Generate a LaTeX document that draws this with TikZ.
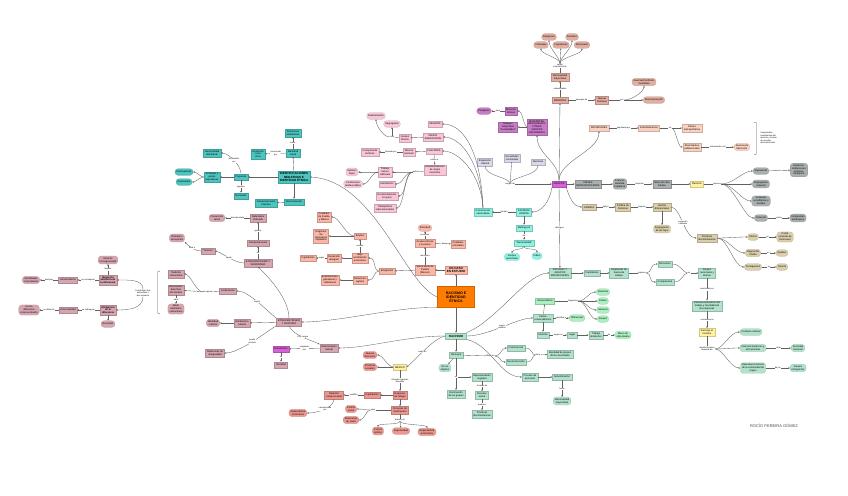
\documentclass[tikz,border=0pt]{standalone}
\usepackage{fontspec}
\setmainfont{Liberation Sans}
\usetikzlibrary{arrows.meta, positioning}
\definecolor{tealc}{RGB}{78,196,190}
\definecolor{mauve}{RGB}{214,166,176}
\definecolor{pinkc}{RGB}{249,198,216}
\definecolor{salmc}{RGB}{250,182,166}
\definecolor{redsal}{RGB}{236,152,144}
\definecolor{purp}{RGB}{198,124,198}
\definecolor{magen}{RGB}{214,98,214}
\definecolor{lav}{RGB}{218,216,234}
\definecolor{brownc}{RGB}{226,174,162}
\definecolor{peachc}{RGB}{250,210,192}
\definecolor{grayc}{RGB}{170,176,176}
\definecolor{khaki}{RGB}{218,206,172}
\definecolor{yel}{RGB}{255,243,162}
\definecolor{mint}{RGB}{178,226,204}
\definecolor{cyanc}{RGB}{142,242,224}
\definecolor{lgreen}{RGB}{172,240,194}
\definecolor{orangec}{RGB}{255,124,0}
\tikzset{
    box/.style={rectangle, draw=#1!82!black, fill=#1, line width=0.2pt, align=center, inner xsep=1.6pt, inner ysep=1.3pt, minimum height=6.5pt, font=\fontsize{2.5}{2.9}\selectfont},
    rbox/.style={box=#1, rounded corners=3pt},
    head/.style={font=\bfseries\fontsize{3}{3.5}\selectfont},
    bld/.style={font=\bfseries\fontsize{2.5}{2.9}\selectfont},
    lbl/.style={fill=white, inner sep=0.3pt, align=center, font=\fontsize{2.1}{2.4}\selectfont},
    arrow/.style={draw=black!62, line width=0.35pt, -{Stealth[length=1.8pt,width=1.6pt]}},
    link/.style={draw=black!62, line width=0.35pt}
}
\begin{document}
\begin{tikzpicture}[x=1pt, y=-1pt]
    \useasboundingbox[fill=white] (0,0) rectangle (848,495);

    % Centre
    \node (raci) [box=orangec, font=\bfseries\fontsize{3.6}{4.2}\selectfont, minimum width=37pt, minimum height=21pt] at (456,297) {RACISMO E\\IDENTIDAD\\ÉTNICA};
    \node (caso) [box=salmc, head] at (456,270) {UN CASO\\EN ESTUDIO};
    \node (sierra) [box=salmc] at (425,270) {Sierra Norte de\\Puebla\\(México)};
    \node (gen) [box=salmc] at (425,243) {Grupos étnicos\\y naciones};
    \node (ciucol) [box=salmc] at (458,244) {Ciudades\\coloniales};
    \node (etnic) [rbox=salmc] at (425,228) {Etnicidad};
    \node (emig) [box=salmc] at (387,271) {Emigración};
    \node (empleo) [box=salmc] at (360,236) {Empleo};
    \node (ciupue) [box=salmc] at (324,217) {Ciudades\\de Puebla\\y México};
    \node (regagr) [box=salmc] at (321,236) {Regiones\\de\\Agricultura\\capitalista};
    \node (bajo) [box=salmc] at (360,258) {Bajo\\rendimiento\\económico};
    \node (desdes) [box=salmc] at (334,258) {Desarrollo\\desigual};
    \node (capit1) [box=salmc] at (308,258) {Capitalismo};
    \node (estagr) [box=salmc] at (360,280) {Estructura\\agraria};
    \node (explot) [box=salmc] at (330,280) {Explotaciones\\ganaderas y\\cafetaleras};

    % Identificaciones
    \node (ident) [box=tealc, head] at (294,177) {IDENTIFICACIONES\\NEGATIVAS E\\IDENTIDAD ÉTNICA};
    \node (idsoc) [box=tealc] at (293,153) {Identidad\\social};
    \node (relasim) [box=tealc] at (293,133) {Relaciones\\asimétricas};
    \node (oposic) [box=tealc] at (258,154) {Oposición\\a los\\otros};
    \node (prej) [box=tealc] at (241,177) {Prejuicios};
    \node (actit) [box=tealc] at (212,177) {Actitudes y\\juicios\\peyorativos};
    \node (domres) [rbox=tealc] at (184,172) {Dominadores};
    \node (domdos) [rbox=tealc] at (184,182) {Dominados};
    \node (naciod) [box=tealc] at (212,153) {Nacionalidad\\dominante};
    \node (exclt) [box=tealc] at (241,196) {Exclusión};
    \node (discrim) [box=tealc] at (294,202) {Discriminación};
    \node (compcol) [box=tealc] at (266,203) {Comportamiento\\colectivo};

    % Etnocentrismo
    \node (natur) [box=mauve] at (258,218) {Naturaleza\\atribuida};
    \node (presun) [rbox=mauve] at (217,218) {Presunción\\racial};
    \node (compo) [box=mauve] at (258,243) {Comportamiento};
    \node (etnxen) [box=mauve] at (258,263) {ETNOCENTRISMO Y\\XENOFOBIA};
    \node (yootros) [box=mauve] at (208,251) {“Yo/otros”};
    \node (otred) [rbox=mauve] at (177,238) {Otredad o\\semejanza};
    \node (acult) [box=mauve] at (228,291) {Aculturación};
    \node (tradic) [box=mauve] at (176,274) {Tradición\\comunitaria};
    \node (derech) [box=mauve] at (176,290) {Desconocer\\derechos\\del hombre};
    \node (modoid) [rbox=mauve] at (176,309) {Modo\\identitario\\comunitario};
    \node (ideal) [rbox=mauve] at (108,260) {Ideal de\\homogeneidad};
    \node (negac) [box=mauve, bld] at (108,280) {Negación\\abstracta de\\la diferencia};
    \node (univ1) [box=mauve] at (68,280) {Universalismo};
    \node (idcom) [rbox=mauve] at (31,280) {Identidades\\comunitarias};
    \node (afirm) [box=mauve, bld] at (108,310) {Afirmación\\de la\\diferencia};
    \node (excl2) [rbox=mauve] at (108,324) {Exclusión};
    \node (univ2) [box=mauve] at (68,310) {Universalidad};
    \node (usadif) [rbox=mauve] at (29,310) {Usa la\\diferencia\\como exclusión};
    \node (antin) [lbl] at (143,293) {Constituyen dos\\antinomias o\\dos racismos};
    \node (etnrac) [box=mauve] at (289,322) {ETNOCENTRISMO\\Y RACISMO};
    \node (relat) [box=mauve] at (242,323) {Relativismo\\cultural};
    \node (idcul) [rbox=mauve] at (213,323) {Identidad\\cultural};
    \node (reldes) [box=mauve] at (215,353) {Relaciones de\\desigualdad};
    \node (darw) [box=magen] at (281,349) {Darwinismo};
    \node (determ) [box=mauve] at (329,348) {Determinismo\\natural};
    \node (unic) [box=mauve] at (281,365) {Unicidad};

    % Grupos (Estados Unidos)
    \node (negros) [box=pinkc] at (435,124) {NEGROS};
    \node (indios) [box=pinkc] at (433,137) {INDIOS\\AMERICANOS};
    \node (chican) [box=pinkc] at (434,151) {CHICANOS};
    \node (estmex) [box=pinkc] at (435,170) {Estadounidenses\\de origen\\mexicano};
    \node (grupet) [box=pinkc] at (405,138) {Grupos\\étnicos};
    \node (exterm) [rbox=pinkc] at (376,116) {Exterminados};
    \node (segreg) [rbox=pinkc] at (392,124) {Segregados};
    \node (minnac) [box=pinkc] at (409,152) {Minoría\\nacional};
    \node (conqu) [box=pinkc] at (370,152) {Conquista de\\territorio};
    \node (trabmc) [box=pinkc] at (385,172) {Trabajo\\menos\\calificado};
    \node (salar) [rbox=pinkc] at (352,172) {Salarios\\bajos};
    \node (condic) [rbox=pinkc] at (353,184) {Condiciones\\desfavorables};
    \node (humil) [box=pinkc] at (387,184) {Humillación};
    \node (encarc) [box=pinkc] at (387,196) {Encarcelamiento\\sin juicio};
    \node (trabind) [box=pinkc] at (385,208) {Trabajadores\\indocumentados};
    \node (raza) [lbl] at (392,137) {raza};
    \node (sufren) [lbl] at (416,172) {sufren};

    \node (expcol) [box=lav] at (485,162) {Expansión\\colonial};
    \node (socest) [box=lav] at (512,158) {Sociedades\\con Estado};
    \node (nacion) [box=lav] at (538,162) {Naciones};
    \node (surg) [lbl] at (510,184) {surgen de};

    \node (migran) [box=purp] at (537,127) {MIGRANTES,\\REFUGIADOS,\\OTROS\\GRUPOS\\NACIONALES};
    \node (minet) [box=purp] at (511,111) {Minorías\\étnicas};
    \node (pasaj) [rbox=purp] at (484,111) {Pasajeros};
    \node (riesg) [box=purp] at (508,127) {Riesgos\\temporales\\“necesidades”};

    \node (minor) [box=brownc] at (560,100) {MINORÍAS};
    \node (nacmay) [box=brownc] at (560,77) {Nacionalidad\\mayoritaria};
    \node (segcar) [lbl] at (560,66) {según\\características};
    \node (cultu) [rbox=brownc] at (541,45) {Culturales};
    \node (lingu) [rbox=brownc] at (561,45) {Lingüísticas};
    \node (nacio) [rbox=brownc] at (582,45) {Nacionales};
    \node (relig) [rbox=brownc] at (549,37) {Religiosas};
    \node (racia) [rbox=brownc] at (572,37) {Raciales};
    \node (nuevfr) [box=brownc] at (602,100) {Nuevas\\fronteras};
    \node (por1) [lbl] at (622,100) {por};
    \node (guerr) [rbox=brownc] at (644,82) {Guerras/Conflictos\\mundiales};
    \node (descol) [rbox=brownc] at (654,100) {Descolonización};

    \node (socied) [box=peachc] at (599,128) {SOCIEDADES};
    \node (indus) [box=peachc] at (649,128) {Industrialización};
    \node (en2) [lbl] at (670,128) {en};
    \node (paismet2) [box=peachc] at (692,128) {Países\\metropolitanos};
    \node (movpob) [box=peachc] at (692,147) {Movimientos\\poblacionales};
    \node (guelib) [rbox=peachc] at (742,147) {Guerras de\\liberación};
    \node (compr) [lbl, align=left, anchor=west] at (760,138) {Comprenden\\movimientos del\\derecho y formas\\de revuelta\\descolonizadas};

    \node (grupos) [box=magen] at (559,184) {GRUPOS};
    \node (paismet) [box=grayc] at (588,184) {PAÍSES\\METROPOLITANOS};
    \node (fran) [rbox=grayc] at (620,184) {Francia,\\Holanda,\\Inglaterra};
    \node (mano) [box=grayc] at (662,184) {Mano de obra\\barata};
    \node (racy) [box=yel] at (697,184) {Racismo};
    \node (provo) [lbl] at (717,184) {provoca};
    \node (separ) [rbox=grayc] at (761,171) {Separación};
    \node (espac) [rbox=grayc] at (799,170) {Espacios,\\instituciones,\\empleos,\\transporte};
    \node (segesp) [rbox=grayc] at (761,184) {Segregación\\espacial};
    \node (actxen) [rbox=grayc] at (761,201) {Actitudes\\xenofóbicas y\\hostiles};
    \node (viol) [rbox=grayc] at (761,218) {Violencia};
    \node (inmig) [rbox=grayc] at (798,218) {Inmigrantes\\extranjeros};

    \node (canada) [box=khaki] at (589,207) {CANADÁ};
    \node (polit) [box=khaki] at (623,207) {Política de\\fronteras};
    \node (hechos) [box=khaki] at (662,207) {Hechos\\diferenciales};
    \node (seghij) [rbox=khaki] at (662,229) {Segregación\\de los hijos};
    \node (practk) [box=khaki] at (707,238) {Prácticas\\discriminatorias};
    \node (chinos) [rbox=khaki] at (753,237) {Chinos};
    \node (costa) [rbox=khaki] at (785,237) {Costa\\noroeste de\\Vancouver};
    \node (negcar) [rbox=khaki] at (753,253) {Negros del\\Caribe};
    \node (quebec) [rbox=khaki] at (782,253) {Quebec};
    \node (portug) [rbox=khaki] at (753,267) {Portugueses};
    \node (toronto) [rbox=khaki] at (782,267) {Toronto};

    \node (eeuu) [box=cyanc] at (524,212) {ESTADOS\\UNIDOS};
    \node (constn) [box=cyanc] at (483,212) {Construcción\\nacionalista};
    \node (melt) [box=cyanc] at (524,228) {Melting pot};
    \node (nacq) [box=cyanc] at (524,243) {“Nacionalidad”};
    \node (grupnac) [rbox=cyanc] at (512,257) {Grupos\\nacionales};
    \node (indios2) [rbox=cyanc] at (537,256) {Indios};

    % Racismo y grupos minoritarios
    \node (rgm) [box=mint] at (560,273) {RACISMO Y\\GRUPOS\\MINORITARIOS};
    \node (capit2) [box=mint] at (592,273) {Capitalismo};
    \node (ampl) [box=mint] at (619,273) {Ampliación de\\fuerza de\\trabajo};
    \node (prod) [lbl] at (642,273) {produce};
    \node (encu) [box=mint] at (665,264) {Encuentro};
    \node (compet) [box=mint] at (665,282) {Competencia};
    \node (en3) [lbl] at (689,273) {en};
    \node (grnyet) [box=mint] at (707,273) {Grupos\\nacionales y\\étnicos};
    \node (intern) [box=mint] at (707,306) {Internacionalización del\\trabajo y movilidad de\\las empresas};
    \node (resur) [box=yel] at (707,332) {Resurge el\\racismo};
    \node (manif) [lbl] at (707,349) {manifestaciones\\depende de};
    \node (contx) [rbox=mint] at (751,332) {Contexto cultural};
    \node (factr) [rbox=mint] at (753,348) {Factores históricos y\\estructurales};
    \node (socnac) [rbox=mint] at (798,348) {Sociedad\\nacional};
    \node (natur2) [rbox=mint] at (753,368) {Naturaleza histórica\\de la comunidad de\\origen};
    \node (grinm) [rbox=mint] at (798,368) {Grupos\\inmigrantes};

    % Racismo
    \node (racismo) [box=mint, head, minimum width=21pt] at (456,336) {RACISMO};
    \node (ideol) [box=mint] at (456,355) {Ideología};
    \node (noobj) [rbox=mint] at (445,368) {No es\\objetivo};
    \node (en1) [lbl] at (456,377) {en};
    \node (domgr) [box=mint] at (456,394) {Dominación\\de los grupos};
    \node (repneg) [box=mint] at (482,377) {Representación\\negativa};
    \node (discur) [box=mint] at (482,395) {Discurso\\social};
    \node (pradis) [box=mint] at (482,414) {Prácticas\\discriminatorias};
    \node (infl) [lbl] at (490,356) {influye en};
    \node (constr) [box=mint] at (516,348) {Construcción};
    \node (decons) [box=mint] at (516,362) {Deconstrucción};
    \node (dela) [lbl] at (538,355) {de la};
    \node (idgru) [box=mint] at (560,354) {Identidad de grupos\\étnico-nacionales};
    \node (procex) [box=mint] at (530,377) {Proceso de\\exclusión};
    \node (subord) [box=mint] at (562,377) {Subordinación};
    \node (nacmay2) [rbox=mint] at (562,401) {Nacionalidad\\mayoritaria};
    \node (univ3) [box=lgreen] at (545,301) {Universalismo};
    \node (frag) [lbl] at (573,301) {fragmenta};
    \node (sist2) [rbox=lgreen] at (603,292) {Sistemas};
    \node (clas) [rbox=lgreen] at (603,301) {Clases};
    \node (gene) [rbox=lgreen] at (603,310) {Géneros};
    \node (grup2) [rbox=lgreen] at (603,319) {Grupos};
    \node (falsu) [box=mint] at (543,318) {Falsos\\universalismos};
    \node (diferen) [rbox=lgreen] at (577,318) {Diferencias};
    \node (sistem) [box=mint] at (543,335) {Sistema};
    \node (lugar) [box=mint] at (572,335) {Lugar};
    \node (trabdom) [box=mint] at (596,335) {Trabajo\\doméstico};
    \node (manob2) [rbox=lgreen] at (623,335) {Mano de\\obra barata};

    % Mexico
    \node (mexico) [box=yel] at (400,367) {MÉXICO};
    \node (nuevd) [rbox=redsal] at (370,355) {Nuevos\\discursos};
    \node (pracs) [rbox=redsal] at (370,367) {Prácticas\\sociales};
    \node (regref) [box=redsal] at (400,395) {Regiones\\de refugio};
    \node (capit3) [box=redsal] at (372,395) {Capitalismo};
    \node (relcam) [box=redsal] at (334,395) {Relación\\campo-ciudad};
    \node (depec1) [rbox=redsal] at (298,413) {Dependencia\\económica};
    \node (procdom) [box=redsal] at (400,410) {Procesos de\\dominación};
    \node (para2) [lbl] at (373,410) {para};
    \node (contsoc) [rbox=redsal] at (351,409) {Control\\social};
    \node (relcas) [rbox=redsal] at (351,420) {Relaciones\\de casta};
    \node (basa2) [lbl] at (400,420) {basado en};
    \node (contpol) [rbox=redsal] at (378,431) {Control\\político};
    \node (super) [rbox=redsal] at (401,431) {Superioridad};
    \node (depec2) [rbox=redsal] at (427,432) {Dependencia\\económica};

    \node (firma) [font=\fontsize{4}{5}\selectfont, text=black!70] at (774,426) {ROCÍO PEREIRA GÓMEZ};

    % Connections
    \draw [arrow] (raci) -- (caso);
    \draw [arrow] (raci) -- (racismo);
    \draw [arrow] (caso) -- (sierra);
    \draw [arrow] (sierra) -- node[lbl] {menciona} (gen);
    \draw [arrow] (gen) -- node[lbl] {propician} (etnic);
    \draw [arrow] (gen) -- node[lbl] {de} (ciucol);
    \draw [arrow] (sierra) -- (emig);
    \draw [arrow] (emig.west) .. controls +(-6,0) and +(8,0) .. (bajo.east);
    \draw [arrow] (emig.west) .. controls +(-6,0) and +(8,0) .. (estagr.east);
    \draw [arrow] (bajo) -- node[lbl] {escaso} (empleo);
    \draw [arrow] (empleo) -- (regagr);
    \draw [arrow] (empleo.west) .. controls +(-8,0) and +(8,0) .. (ciupue.east);
    \draw [arrow] (bajo) -- (desdes);
    \draw [arrow] (desdes) -- node[lbl] {según} (capit1);
    \draw [arrow] (estagr) -- (explot);

    \draw [arrow] (raci.west) .. controls (405,285) and (375,180) .. (ident.east);
    \draw [arrow] (raci.south west) .. controls (400,306) and (340,322) .. (etnrac.east);
    \draw [arrow] (racismo.west) .. controls +(-40,0) and +(30,0) .. (determ.east);
    \draw [arrow] (racismo.west) .. controls +(-12,2) and +(8,-6) .. node[lbl, pos=0.55] {surge en} (mexico.east);

    \draw [arrow] (ident) -- (prej);
    \draw [arrow] (prej) -- (actit);
    \draw [arrow] (actit.west) .. controls +(-4,0) and +(4,0) .. (domres.east);
    \draw [arrow] (actit.west) .. controls +(-4,0) and +(4,0) .. (domdos.east);
    \draw [arrow] (prej) -- node[lbl] {significa} (exclt);
    \draw [arrow] (prej.north) .. controls +(0,-8) and +(8,0) .. node[lbl] {producidos\\por} (naciod.east);
    \draw [arrow] (ident) -- (idsoc);
    \draw [arrow] (idsoc) -- node[lbl] {basa} (relasim);
    \draw [arrow] (idsoc) -- node[lbl] {reconocida\\por} (oposic);
    \draw [arrow] (ident) -- (discrim);
    \draw [arrow] (discrim) -- (compcol);

    \draw [arrow] (etnxen) -- node[lbl] {en} (compo);
    \draw [arrow] (compo) -- node[lbl] {genera} (natur);
    \draw [arrow] (natur) -- node[lbl] {desvalorizada} (presun);
    \draw [arrow] (etnxen.west) .. controls +(-10,0) and +(8,2) .. node[lbl] {Según} (yootros.east);
    \draw [arrow] (yootros.west) .. controls +(-6,0) and +(4,4) .. node[lbl] {lleva a} (otred.south east);
    \draw [arrow] (etnrac.north) .. controls +(0,-20) and +(10,10) .. (etnxen.south);
    \draw [arrow] (etnrac.north west) .. controls +(-10,-8) and +(12,0) .. node[lbl] {Según} (acult.east);
    \node (seop) [lbl] at (208,292) {se oponen};
    \draw [link] (acult) -- (seop);
    \draw [arrow] (seop.west) .. controls +(-6,0) and +(6,0) .. (tradic.east);
    \draw [arrow] (seop) -- (derech);
    \draw [arrow] (derech) -- node[lbl] {ideal} (modoid);
    \draw [link] (160,271) -- (157.5,272) -- (157.5,313) -- (160,314);
    \draw [arrow] (antin.north) .. controls +(0,-10) and +(12,0) .. (negac.east);
    \draw [arrow] (antin.south) .. controls +(0,12) and +(12,0) .. (afirm.east);
    \draw [arrow] (negac) -- node[lbl] {se contrapone} (univ1);
    \draw [arrow] (univ1) -- node[lbl] {destruye} (idcom);
    \draw [arrow] (negac) -- node[lbl] {implica} (ideal);
    \draw [arrow] (afirm) -- node[lbl] {se sobrepone} (univ2);
    \draw [arrow] (univ2) -- node[lbl] {se distancia} (usadif);
    \draw [arrow] (afirm) -- (excl2);
    \draw [arrow] (etnrac) -- (relat);
    \draw [arrow] (relat) -- (idcul);
    \draw [arrow] (etnrac.south west) .. controls +(-10,6) and +(15,0) .. node[lbl] {puede\\producir} (reldes.east);
    \draw [arrow] (etnrac.south) .. controls +(4,10) and +(-8,-4) .. node[lbl] {Con rasgos} (determ.north west);
    \draw [arrow] (determ) -- node[lbl] {originada\\por} (darw);
    \draw [arrow] (darw) -- node[lbl] {es} (unic);

    \draw [arrow] (constn.north) .. controls +(-2,-55) and +(22,0) .. (negros.east);
    \draw [arrow] (constn.north) .. controls +(-2,-45) and +(18,0) .. (indios.east);
    \draw [arrow] (constn.north) .. controls +(-2,-35) and +(16,0) .. (chican.east);
    \draw [arrow] (chican) -- node[lbl] {refiere a} (estmex);
    \draw [arrow] (indios) -- (grupet);
    \draw [link] (grupet) -- (raza);
    \draw [arrow] (raza.west) .. controls +(-6,0) and +(0,6) .. (exterm.south);
    \draw [arrow] (raza.north) .. controls +(0,-3) and +(0,4) .. (segreg.south);
    \draw [arrow] (chican) -- (minnac);
    \draw [arrow] (minnac) -- node[lbl] {formada por} (conqu);
    \draw [link] (estmex) -- (sufren);
    \draw [arrow] (sufren.west) .. controls +(-8,0) and +(8,0) .. (trabmc.east);
    \draw [arrow] (sufren.west) .. controls +(-8,0) and +(8,0) .. (humil.east);
    \draw [arrow] (sufren.west) .. controls +(-8,0) and +(8,0) .. (encarc.east);
    \draw [arrow] (sufren.west) .. controls +(-8,0) and +(8,0) .. (trabind.east);
    \draw [arrow] (trabmc.west) .. controls +(-6,0) and +(6,0) .. (salar.east);
    \draw [arrow] (trabmc.west) .. controls +(-6,0) and +(6,0) .. (condic.east);

    \draw [link] (expcol.south) .. controls +(0,10) and +(-4,-6) .. (surg.north);
    \draw [link] (socest) -- (surg);
    \draw [link] (nacion.south) .. controls +(0,10) and +(4,-6) .. (surg.north);
    \draw [arrow] (surg) -- (grupos);
    \draw [arrow] (grupos.north) .. controls +(0,-20) and +(0,20) .. (migran.south);
    \draw [arrow] (grupos) -- (minor);
    \draw [arrow] (grupos.north) .. controls +(0,-20) and +(0,20) .. (socied.south);
    \draw [arrow] (migran.west) .. controls +(-4,-4) and +(5,0) .. (minet.east);
    \draw [arrow] (migran) -- (riesg);
    \draw [arrow] (minet) -- node[lbl] {para} (pasaj);

    \draw [arrow] (minor) -- node[lbl] {subordinadas} (nacmay);
    \draw [link] (nacmay) -- (segcar);
    \draw [arrow] (segcar.north) .. controls +(0,-6) and +(0,6) .. (cultu.south);
    \draw [arrow] (segcar.north) .. controls +(0,-6) and +(0,8) .. (relig.south);
    \draw [arrow] (segcar) -- (lingu);
    \draw [arrow] (segcar.north) .. controls +(0,-6) and +(0,8) .. (racia.south);
    \draw [arrow] (segcar.north) .. controls +(0,-6) and +(0,6) .. (nacio.south);
    \draw [arrow] (minor) -- node[lbl] {emergen de} (nuevfr);
    \draw [link] (nuevfr) -- (por1);
    \draw [arrow] (por1) -- (descol);
    \draw [arrow] (por1.east) .. controls +(8,0) and +(0,6) .. (guerr.south);

    \draw [arrow] (socied) -- node[lbl] {impulsada por} (indus);
    \draw [link] (indus) -- (en2);
    \draw [arrow] (en2) -- (paismet2);
    \draw [arrow] (en2.east) .. controls +(4,0) and +(-5,0) .. (movpob.west);
    \draw [arrow] (movpob) -- node[lbl] {relacionados con} (guelib);
    \draw [link] (754,122) -- (756.5,123) -- (756.5,154) -- (754,155);

    \draw [arrow] (grupos) -- (paismet);
    \draw [arrow] (paismet) -- (fran);
    \draw [arrow] (fran) -- node[lbl] {importan} (mano);
    \draw [arrow] (mano) -- (racy);
    \draw [link] (racy) -- (provo);
    \draw [arrow] (provo.east) .. controls +(12,0) and +(-10,0) .. (separ.west);
    \draw [arrow] (provo) -- (segesp);
    \draw [arrow] (provo.east) .. controls +(12,0) and +(-10,0) .. (actxen.west);
    \draw [arrow] (provo.east) .. controls +(12,0) and +(-10,0) .. (viol.west);
    \draw [arrow] (separ) -- node[lbl] {en} (espac);
    \draw [arrow] (viol) -- node[lbl] {contra} (inmig);

    \draw [arrow] (grupos.south east) .. controls +(4,12) and +(-8,0) .. (canada.west);
    \draw [arrow] (canada) -- node[lbl] {aplica} (polit);
    \draw [arrow] (polit) -- node[lbl] {impulsa} (hechos);
    \draw [arrow] (hechos) -- (seghij);
    \draw [arrow] (hechos.east) .. controls +(10,0) and +(-12,0) .. node[lbl] {expresión\\cotidiana} (practk.west);
    \draw [arrow] (practk.east) .. controls +(10,0) and +(-10,0) .. (chinos.west);
    \draw [arrow] (practk.east) .. controls +(10,0) and +(-10,0) .. (negcar.west);
    \draw [arrow] (practk.east) .. controls +(10,0) and +(-10,0) .. (portug.west);
    \draw [arrow] (chinos) -- node[lbl] {en} (costa);
    \draw [arrow] (negcar) -- node[lbl] {en} (quebec);
    \draw [arrow] (portug) -- node[lbl] {en} (toronto);

    \draw [arrow] (grupos.south west) .. controls +(-2,14) and +(10,0) .. (eeuu.east);
    \draw [arrow] (eeuu) -- node[lbl] {forman} (constn);
    \draw [arrow] (eeuu) -- (melt);
    \draw [arrow] (melt) -- node[lbl] {vía} (nacq);
    \draw [arrow] (nacq.south) .. controls +(0,4) and +(0,-5) .. (grupnac.north);
    \draw [arrow] (nacq.south) .. controls +(0,4) and +(0,-5) .. (indios2.north);

    \draw [arrow] (grupos) -- node[lbl] {distingue} (rgm);
    \draw [arrow] (rgm) -- (capit2);
    \draw [arrow] (capit2) -- (ampl);
    \draw [link] (ampl) -- (prod);
    \draw [arrow] (prod.east) .. controls +(6,0) and +(-8,0) .. (encu.west);
    \draw [arrow] (prod.east) .. controls +(6,0) and +(-8,0) .. (compet.west);
    \draw [link] (encu.east) .. controls +(8,0) and +(-4,0) .. (en3.west);
    \draw [link] (compet.east) .. controls +(8,0) and +(-4,0) .. (en3.west);
    \draw [arrow] (en3) -- (grnyet);
    \draw [arrow] (grnyet) -- node[lbl] {acentuado por} (intern);
    \draw [arrow] (intern) -- node[lbl] {consecuencia} (resur);
    \draw [link] (resur) -- (manif);
    \draw [arrow] (manif.east) .. controls +(8,0) and +(-10,0) .. (contx.west);
    \draw [arrow] (manif.east) .. controls +(8,0) and +(-10,0) .. (factr.west);
    \draw [arrow] (manif.east) .. controls +(8,0) and +(-10,0) .. (natur2.west);
    \draw [arrow] (factr) -- node[lbl] {de la} (socnac);
    \draw [arrow] (natur2) -- node[lbl] {de los} (grinm);

    \draw [arrow] (racismo.north east) .. controls +(30,-12) and +(-22,0) .. (rgm.west);
    \draw [arrow] (racismo.east) .. controls +(22,0) and +(-16,0) .. node[lbl] {según\\ámbitos} (falsu.west);
    \draw [arrow] (falsu) -- (univ3);
    \draw [link] (univ3) -- (frag);
    \draw [arrow] (frag.east) .. controls +(8,0) and +(-8,0) .. (sist2.west);
    \draw [arrow] (frag) -- (clas);
    \draw [arrow] (frag.east) .. controls +(8,0) and +(-8,0) .. (gene.west);
    \draw [arrow] (frag.east) .. controls +(8,0) and +(-8,0) .. (grup2.west);
    \draw [arrow] (falsu) -- node[lbl] {identifica a} (diferen);
    \draw [arrow] (falsu) -- (sistem);
    \draw [arrow] (sistem) -- node[lbl] {asigna un} (lugar);
    \draw [arrow] (lugar) -- (trabdom);
    \draw [arrow] (trabdom) -- node[lbl] {de} (manob2);
    \draw [arrow] (racismo.south east) .. controls +(25,6) and +(-22,0) .. (procex.west);
    \draw [arrow] (procex) -- (subord);
    \draw [arrow] (subord) -- node[lbl] {hacia} (nacmay2);

    \draw [arrow] (racismo) -- (ideol);
    \draw [arrow] (ideol) -- (noobj);
    \draw [link] (ideol) -- (en1);
    \draw [arrow] (en1) -- (domgr);
    \draw [arrow] (en1) -- (repneg);
    \draw [arrow] (repneg) -- node[lbl] {a través de} (discur);
    \draw [arrow] (discur) -- node[lbl] {produce} (pradis);
    \draw [link] (ideol) -- (infl);
    \draw [arrow] (infl.east) .. controls +(6,0) and +(-6,0) .. (constr.west);
    \draw [arrow] (infl.east) .. controls +(6,0) and +(-6,0) .. (decons.west);
    \draw [link] (constr.east) .. controls +(8,0) and +(-4,0) .. (dela.west);
    \draw [link] (decons.east) .. controls +(8,0) and +(-4,0) .. (dela.west);
    \draw [arrow] (dela) -- (idgru);

    \draw [arrow] (mexico.west) .. controls +(-6,0) and +(6,0) .. (nuevd.east);
    \draw [arrow] (mexico) -- (pracs);
    \draw [arrow] (mexico) -- node[lbl] {Grandes regiones\\llamadas} (regref);
    \draw [arrow] (regref) -- (capit3);
    \draw [arrow] (capit3) -- node[lbl] {modifica} (relcam);
    \draw [arrow] (relcam.south) .. controls +(0,8) and +(12,0) .. node[lbl] {caracterizada\\por} (depec1.east);
    \draw [arrow] (regref) -- (procdom);
    \draw [link] (procdom) -- (para2);
    \draw [arrow] (para2.west) .. controls +(-5,0) and +(6,0) .. (contsoc.east);
    \draw [arrow] (para2.west) .. controls +(-5,0) and +(6,0) .. (relcas.east);
    \draw [link] (procdom) -- (basa2);
    \draw [arrow] (basa2.south) .. controls +(0,4) and +(0,-4) .. (contpol.north);
    \draw [arrow] (basa2) -- (super);
    \draw [arrow] (basa2.south) .. controls +(0,4) and +(0,-4) .. (depec2.north);
\end{tikzpicture}
\end{document}
